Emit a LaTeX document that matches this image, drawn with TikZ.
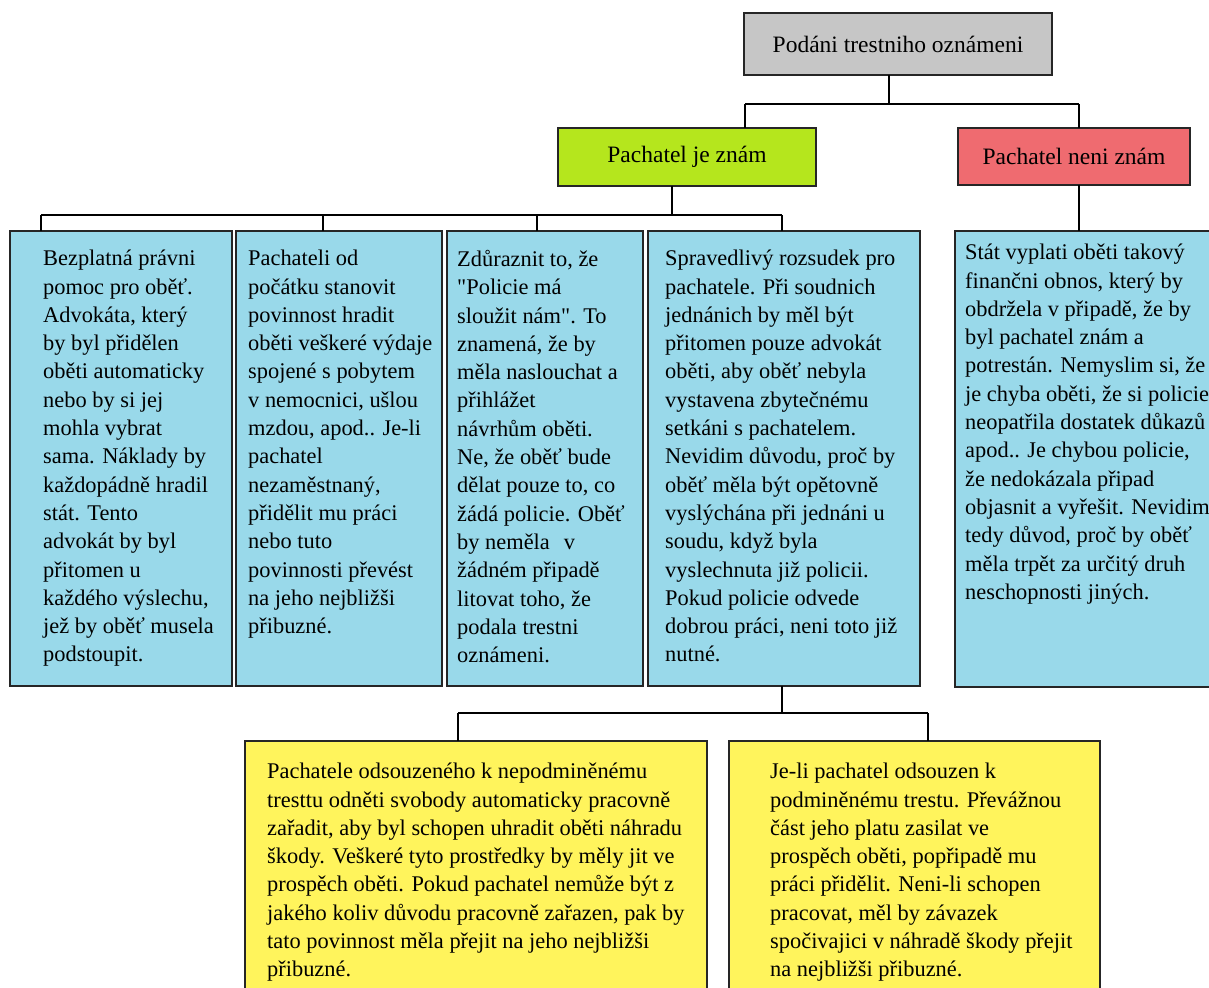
\documentclass[tikz,border=0pt]{standalone}
\usepackage{fontspec}
\setmainfont{Liberation Serif}
\newfontfamily\qfont{Liberation Serif}[Ligatures=ResetAll]
\definecolor{boxgray}{HTML}{C6C6C6}
\definecolor{boxgreen}{HTML}{B5E61D}
\definecolor{boxred}{HTML}{EF6B70}
\definecolor{boxblue}{HTML}{99D9EA}
\definecolor{boxyellow}{HTML}{FFF45C}
\newcommand{\qd}{{\qfont\char34}}
\begin{document}
\begin{tikzpicture}[x=1pt,y=-1pt,
  box/.style={draw=black!85,line width=1.3pt,anchor=north west,inner sep=0pt,outer sep=0pt},
  headbox/.style={draw=black!85,line width=1.3pt,anchor=north west,inner sep=0pt,outer sep=0pt,font=\fontsize{23.5}{28}\selectfont},
  txt/.style={anchor=north west,inner sep=0pt,align=left,font=\fontsize{22.4}{28.3}\selectfont,execute at begin node=\strut},
  conn/.style={draw=black,line width=1.2pt}]
\useasboundingbox (0,0) rectangle (1209,987);
% header boxes
\node[headbox,fill=boxgray,minimum width=308pt,minimum height=62pt] (top) at (744,13) {Podáni trestniho oznámeni};
\node[headbox,fill=boxgreen,minimum width=258pt,minimum height=58pt] (green) at (558,128) {Pachatel je znám};
\node[headbox,fill=boxred,minimum width=232pt,minimum height=57pt] (red) at (958,128) {Pachatel neni znám};
% blue boxes
\node[box,fill=boxblue,minimum width=222pt,minimum height=455pt] (b1) at (10,231) {};
\node[box,fill=boxblue,minimum width=206pt,minimum height=455pt] (b2) at (236,231) {};
\node[box,fill=boxblue,minimum width=196pt,minimum height=455pt] (b3) at (447,231) {};
\node[box,fill=boxblue,minimum width=272pt,minimum height=455pt] (b4) at (648,231) {};
\node[box,fill=boxblue,minimum width=280pt,minimum height=456pt] (b5) at (955,231) {};
% yellow boxes
\node[box,fill=boxyellow,minimum width=462pt,minimum height=260pt] (y1) at (245,741) {};
\node[box,fill=boxyellow,minimum width=371pt,minimum height=260pt] (y2) at (729,741) {};
% texts
\node[txt] (t1) at (43,250) {Bezplatná právni\\pomoc pro oběť.\\Advokáta, který\\by byl přidělen\\oběti automaticky\\nebo by si jej\\mohla vybrat\\sama. Náklady by\\každopádně hradil\\stát. Tento\\advokát by byl\\přitomen u\\každého výslechu,\\jež by oběť musela\\podstoupit.};
\node[txt] (t2) at (248,250) {Pachateli od\\počátku stanovit\\povinnost hradit\\oběti veškeré výdaje\\spojené s pobytem\\v nemocnici, ušlou\\mzdou, apod.. Je-li\\pachatel\\nezaměstnaný,\\přidělit mu práci\\nebo tuto\\povinnosti převést\\na jeho nejbližši\\přibuzné.};
\node[txt] (t3) at (457,250) {Zdůraznit to, že\\\qd Policie má\\sloužit nám\qd. To\\znamená, že by\\měla naslouchat a\\přihlážet\\návrhům oběti.\\Ne, že oběť bude\\dělat pouze to, co\\žádá policie. Oběť\\by neměla\hspace{14pt}v\\žádném připadě\\litovat toho, že\\podala trestni\\oznámeni.};
\node[txt] (t4) at (665,250) {Spravedlivý rozsudek pro\\pachatele. Při soudnich\\jednánich by měl být\\přitomen pouze advokát\\oběti, aby oběť nebyla\\vystavena zbytečnému\\setkáni s pachatelem.\\Nevidim důvodu, proč by\\oběť měla být opětovně\\vyslýchána při jednáni u\\soudu, když byla\\vyslechnuta již policii.\\Pokud policie odvede\\dobrou práci, neni toto již\\nutné.};
\node[txt] (t5) at (965,244) {Stát vyplati oběti takový\\finančni obnos, který by\\obdržela v připadě, že by\\byl pachatel znám a\\potrestán. Nemyslim si, že\\je chyba oběti, že si policie\\neopatřila dostatek důkazů\\apod.. Je chybou policie,\\že nedokázala připad\\objasnit a vyřešit. Nevidim\\tedy důvod, proč by oběť\\měla trpět za určitý druh\\neschopnosti jiných.};
\node[txt] (t6) at (267,763) {Pachatele odsouzeného k nepodminěnému\\tresttu odněti svobody automaticky pracovně\\zařadit, aby byl schopen uhradit oběti náhradu\\škody. Veškeré tyto prostředky by měly jit ve\\prospěch oběti. Pokud pachatel nemůže být z\\jakého koliv důvodu pracovně zařazen, pak by\\tato povinnost měla přejit na jeho nejbližši\\přibuzné.};
\node[txt] (t7) at (770,763) {Je-li pachatel odsouzen k\\podminěnému trestu. Převážnou\\část jeho platu zasilat ve\\prospěch oběti, popřipadě mu\\práci přidělit. Neni-li schopen\\pracovat, měl by závazek\\spočivajici v náhradě škody přejit\\na nejbližši přibuzné.};
% connectors
\coordinate (j0) at (889,104);
\coordinate (jg) at (745,104);
\coordinate (jr) at (1079,104);
\draw[conn] (top.south -| j0) -- (j0);
\draw[conn] (jg) -- (jr);
\draw[conn] (jg) -- (green.north -| jg);
\draw[conn] (jr) -- (red.north -| jr);
\draw[conn] (red.south -| jr) -- (b5.north -| jr);
\coordinate (k0) at (672,215);
\coordinate (k1) at (41,215);
\coordinate (k2) at (323,215);
\coordinate (k3) at (537,215);
\coordinate (k4) at (782,215);
\draw[conn] (green.south -| k0) -- (k0);
\draw[conn] (k1) -- (k4);
\draw[conn] (k1) -- (b1.north -| k1);
\draw[conn] (k2) -- (b2.north -| k2);
\draw[conn] (k3) -- (b3.north -| k3);
\draw[conn] (k4) -- (b4.north -| k4);
\coordinate (m0) at (782,713);
\coordinate (m1) at (458,713);
\coordinate (m2) at (928,713);
\draw[conn] (b4.south -| m0) -- (m0);
\draw[conn] (m1) -- (m2);
\draw[conn] (m1) -- (y1.north -| m1);
\draw[conn] (m2) -- (y2.north -| m2);
\end{tikzpicture}
\end{document}
